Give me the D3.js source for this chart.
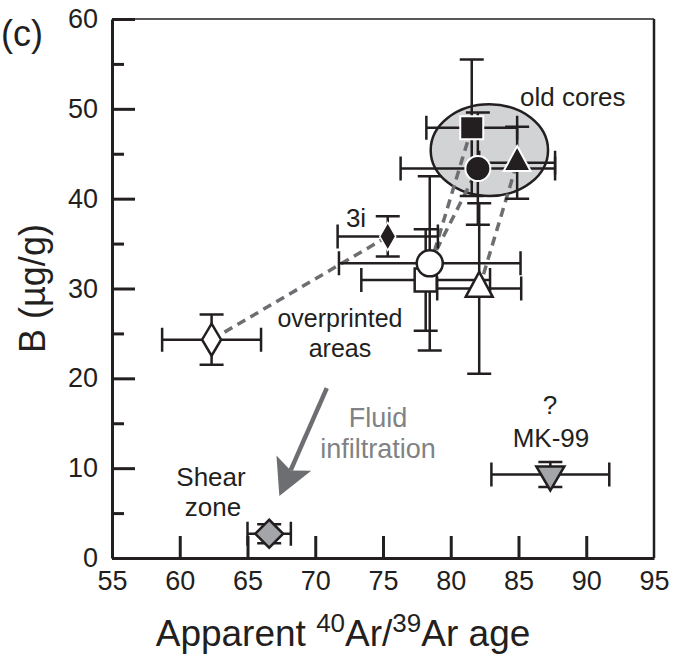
<!DOCTYPE html>
<html>
<head>
<meta charset="utf-8">
<script src="https://cdn.jsdelivr.net/npm/d3@7"></script>
<style>
  html, body { margin: 0; padding: 0; background: #fff; }
  svg { display: block; font-family: "Liberation Sans", Arial, Helvetica, sans-serif; }
</style>
</head>
<body>
<svg id="chart" width="673" height="669"></svg>
<script>
// Samples: old cores (filled), overprinted areas (open), 3i, shear zone and MK-99
const samples  = ["core-square", "core-circle", "core-triangle", "3i", "rim-square", "rim-circle", "rim-triangle", "rim-diamond", "shear-zone", "MK-99"];
const ageMa    = [81.55, 82.0, 84.9, 75.35, 78.15, 78.45, 82.1, 62.35, 66.6, 87.35];
const ageErr   = [3.35, 5.7, 2.8, 3.7, 4.75, 6.7, 3.1, 3.65, 1.6, 4.35];
const boronUgG = [47.9, 43.35, 44.0, 35.8, 30.95, 32.8, 30.0, 24.3, 2.7, 9.3];
const boronErr = [7.6, 6.25, 4.0, 2.25, 5.65, 9.7, 9.5, 2.8, 1.05, 1.4];

// Overprinted area -> corresponding old core
const linkFrom = ["rim-square", "rim-circle", "rim-triangle", "rim-diamond"];
const linkTo   = ["core-square", "core-circle", "core-triangle", "3i"];

// Old-core field (centre and half-widths in data units)
const coreFieldCenter = [82.85, 45.4];
const coreFieldRadius = [4.33, 5.1];

// Fluid infiltration arrow (data units)
const arrowStart = [70.85, 18.9];
const arrowEnd   = [67.35, 6.9];

const xTicks = [55, 60, 65, 70, 75, 80, 85, 90, 95];
const yMajorTicks = [0, 10, 20, 30, 40, 50, 60];
const yMinorTicks = [5, 15, 25, 35, 45, 55];

const INK = "#231f20";
const GREY_MARK = "#a3a5a8";
const DASH_GREY = "#6d6e71";

// Marker styles per sample
const markerStyle = {
  "core-square":   {shape: "square",   w: 23, h: 23, fill: INK,   stroke: "#fff", sw: 2},
  "core-circle":   {shape: "circle",   w: 25, h: 25, fill: INK,   stroke: "#fff", sw: 2},
  "core-triangle": {shape: "triUp",    w: 27, h: 25, fill: INK,   stroke: "#fff", sw: 2},
  "3i":            {shape: "diamond",  w: 16, h: 28, fill: INK,   stroke: "#fff", sw: 1.5},
  "rim-square":    {shape: "square",   w: 22, h: 23, fill: "#fff", stroke: INK, sw: 2.5},
  "rim-circle":    {shape: "circle",   w: 26, h: 26, fill: "#fff", stroke: INK, sw: 2.5},
  "rim-triangle":  {shape: "triUp",    w: 27, h: 25, fill: "#fff", stroke: INK, sw: 2.5},
  "rim-diamond":   {shape: "diamond",  w: 19, h: 32, fill: "#fff", stroke: INK, sw: 2.5},
  "shear-zone":    {shape: "diamond",  w: 28, h: 28, fill: GREY_MARK, stroke: INK, sw: 2.5},
  "MK-99":         {shape: "triDown",  w: 28, h: 24, fill: GREY_MARK, stroke: INK, sw: 2.5}
};

function markerPath(s) {
  const w = s.w, h = s.h;
  switch (s.shape) {
    case "square":  return `M${-w/2},${-h/2}H${w/2}V${h/2}H${-w/2}Z`;
    case "circle":  return `M${w/2},0A${w/2},${w/2} 0 1,1 ${-w/2},0A${w/2},${w/2} 0 1,1 ${w/2},0Z`;
    case "triUp":   return `M0,${-2*h/3}L${w/2},${h/3}L${-w/2},${h/3}Z`;
    case "triDown": return `M0,${2*h/3}L${w/2},${-h/3}L${-w/2},${-h/3}Z`;
    case "diamond": return `M0,${-h/2}L${w/2},0L0,${h/2}L${-w/2},0Z`;
  }
}

const data = samples.map((name, i) => ({
  name, age: ageMa[i], ageErr: ageErr[i], b: boronUgG[i], bErr: boronErr[i]
}));
const byName = Object.fromEntries(data.map(d => [d.name, d]));

const svg = d3.select("#chart");
const x = d3.scaleLinear().domain([55, 95]).range([112, 654]);
const y = d3.scaleLinear().domain([0, 60]).range([558, 19]);

// Frame: top and right borders
svg.append("line").attr("x1", x(55)).attr("x2", x(95)).attr("y1", y(60)).attr("y2", y(60))
  .attr("stroke", INK).attr("stroke-width", 1.6);
svg.append("line").attr("x1", x(95)).attr("x2", x(95)).attr("y1", y(60)).attr("y2", y(0))
  .attr("stroke", INK).attr("stroke-width", 2.5);

// Left axis, major ticks pointing inward
const yAxis = svg.append("g").attr("transform", `translate(${x(55)},0)`)
  .call(d3.axisLeft(y).tickValues(yMajorTicks).tickSizeInner(-23).tickSizeOuter(0).tickPadding(14));
const yMinor = svg.append("g").attr("transform", `translate(${x(55)},0)`)
  .call(d3.axisLeft(y).tickValues(yMinorTicks).tickSizeInner(-12).tickSizeOuter(0).tickFormat(""));
yMinor.select(".domain").remove();

// Bottom axis, ticks pointing inward
const xAxis = svg.append("g").attr("transform", `translate(0,${y(0)})`)
  .call(d3.axisBottom(x).tickValues(xTicks).tickSizeInner(-22).tickSizeOuter(0).tickPadding(13));

[yAxis, yMinor, xAxis].forEach(g => {
  g.selectAll(".domain").attr("stroke", INK).attr("stroke-width", 3);
  g.selectAll(".tick line").attr("stroke", INK).attr("stroke-width", 3);
  g.selectAll(".tick text").attr("fill", INK).attr("font-size", 27)
    .attr("font-family", '"Liberation Sans", Arial, sans-serif');
});
xAxis.selectAll(".tick").filter(d => d === 55 || d === 95).select("line").remove();

// Axis titles
const xt = svg.append("text").attr("x", 343).attr("y", 646).attr("text-anchor", "middle")
  .attr("font-size", 37).attr("fill", INK);
xt.append("tspan").text("Apparent ");
xt.append("tspan").attr("font-size", 26).attr("dy", -14).text("40");
xt.append("tspan").attr("dy", 14).text("Ar/");
xt.append("tspan").attr("font-size", 26).attr("dy", -14).text("39");
xt.append("tspan").attr("dy", 14).text("Ar age");

svg.append("text").attr("transform", `translate(45,${y(30)}) rotate(-90)`).attr("text-anchor", "middle")
  .attr("font-size", 36).attr("fill", INK).text("B (\u00b5g/g)");

svg.append("text").attr("x", 1).attr("y", 46).attr("font-size", 36).attr("fill", INK).text("(c)");

// Old-core field
svg.append("ellipse")
  .attr("cx", x(coreFieldCenter[0])).attr("cy", y(coreFieldCenter[1]))
  .attr("rx", x(coreFieldCenter[0] + coreFieldRadius[0]) - x(coreFieldCenter[0]))
  .attr("ry", y(coreFieldCenter[1]) - y(coreFieldCenter[1] + coreFieldRadius[1]))
  .attr("fill", "#d1d3d4").attr("stroke", INK).attr("stroke-width", 2.5);

// Dashed links between overprinted areas and their cores
svg.append("g").selectAll("line").data(linkFrom.map((f, i) => [byName[f], byName[linkTo[i]]]))
  .join("line")
  .attr("x1", d => x(d[0].age)).attr("y1", d => y(d[0].b))
  .attr("x2", d => x(d[1].age)).attr("y2", d => y(d[1].b))
  .attr("stroke", DASH_GREY).attr("stroke-width", 3.5).attr("stroke-dasharray", "9,6");

// Error bars
const CAP = 12;
const eb = svg.append("g").attr("stroke", INK).attr("stroke-width", 2.5).attr("fill", "none");
data.forEach(d => {
  const cx = x(d.age), cy = y(d.b);
  const x0 = x(d.age - d.ageErr), x1 = x(d.age + d.ageErr);
  const y0 = y(d.b - d.bErr), y1 = y(d.b + d.bErr);
  eb.append("path").attr("d",
    `M${x0},${cy}H${x1}M${x0},${cy - CAP}V${cy + CAP}M${x1},${cy - CAP}V${cy + CAP}` +
    `M${cx},${y0}V${y1}M${cx - CAP},${y0}H${cx + CAP}M${cx - CAP},${y1}H${cx + CAP}`);
});

// Markers
svg.append("g").selectAll("path").data(data).join("path")
  .attr("transform", d => `translate(${x(d.age)},${y(d.b)})`)
  .attr("d", d => markerPath(markerStyle[d.name]))
  .attr("fill", d => markerStyle[d.name].fill)
  .attr("stroke", d => markerStyle[d.name].stroke)
  .attr("stroke-width", d => markerStyle[d.name].sw);

// Fluid infiltration arrow
const ax0 = x(arrowStart[0]), ay0 = y(arrowStart[1]);
const ax1 = x(arrowEnd[0]), ay1 = y(arrowEnd[1]);
const len = Math.hypot(ax1 - ax0, ay1 - ay0);
const ux = (ax1 - ax0) / len, uy = (ay1 - ay0) / len;
const headLen = 36, headHalf = 19, notch = 8;
const bx = ax1 - ux * headLen, by = ay1 - uy * headLen;
svg.append("line").attr("x1", ax0).attr("y1", ay0)
  .attr("x2", bx + ux * notch).attr("y2", by + uy * notch)
  .attr("stroke", DASH_GREY).attr("stroke-width", 4.5);
svg.append("path").attr("d",
  `M${ax1},${ay1}L${bx - uy * headHalf},${by + ux * headHalf}` +
  `L${bx + ux * notch},${by + uy * notch}L${bx + uy * headHalf},${by - ux * headHalf}Z`)
  .attr("fill", DASH_GREY);

// Annotations
const note = (txt, px, py, opts = {}) => svg.append("text").attr("x", px).attr("y", py)
  .attr("text-anchor", opts.anchor || "middle").attr("font-size", opts.size || 26)
  .attr("fill", opts.color || INK).text(txt);
note("old cores", 520, 106, {anchor: "start"});
note("3i", 356, 227);
note("overprinted", 340, 327, {size: 25});
note("areas", 340, 357, {size: 25});
note("Fluid", 378, 427, {color: "#808285", size: 27});
note("infiltration", 378, 458, {color: "#808285", size: 27});
note("Shear", 211, 486);
note("zone", 213, 516);
note("?", 550, 414);
note("MK-99", 551, 447);
</script>
</body>
</html>
